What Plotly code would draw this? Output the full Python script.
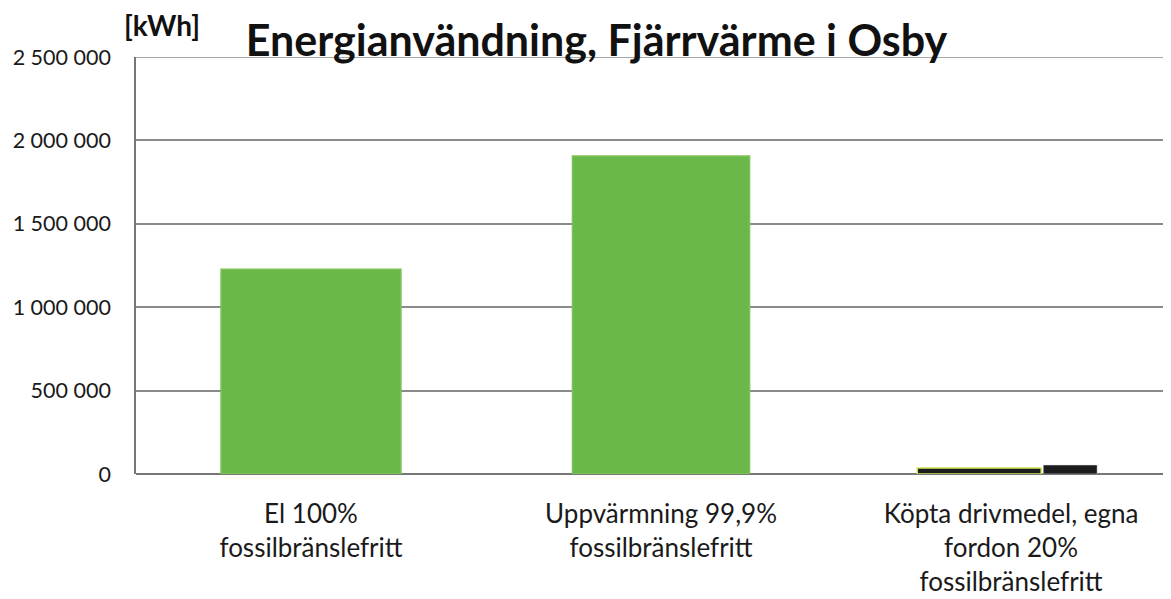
import plotly.graph_objects as go

# data
categories = ["El 100%<br>fossilbränslefritt",
              "Uppvärmning 99,9%<br>fossilbränslefritt",
              "Köpta drivmedel, egna<br>fordon 20%<br>fossilbränslefritt"]
energi = [1227000, 1906000, 36000]
extra_svart = [None, None, 54000]
ytick_vals = [0, 500000, 1000000, 1500000, 2000000, 2500000]
ytick_text = ["0", "500 000", "1 000 000", "1 500 000", "2 000 000", "2 500 000"]

fnt = "Lato, Carlito, Open Sans, sans-serif"

fig = go.Figure()
fig.add_trace(go.Bar(x=categories, y=energi,
                     width=[0.514, 0.506, 0.354],
                     offset=[-0.257, -0.253, -0.268],
                     marker_color=["#6ab84a", "#6ab84a", "#1c1c1c"],
                     marker_line_color=["#7dc255", "#7dc255", "#cfe35a"],
                     marker_line_width=1.5,
                     showlegend=False))
fig.add_trace(go.Bar(x=categories, y=extra_svart,
                     width=0.154, offset=0.092,
                     marker_color="#1c1c1c",
                     showlegend=False))

# page body has an 8px margin, so the figure is a bit smaller than the window
fig.update_layout(
    width=1163, height=591,
    margin=dict(l=128, r=0, t=49, b=125, autoexpand=False),
    plot_bgcolor="white", paper_bgcolor="white",
    barmode="overlay",
    font=dict(family=fnt, color="#1a1a1a"),
    title=dict(text="<b>Energianvändning, Fjärrvärme i Osby</b>",
               x=0.506, xanchor="center", y=0.945, yanchor="middle",
               font=dict(size=43, family=fnt, color="#111")),
)
fig.add_annotation(text="<b>[kWh]</b>", xref="paper", yref="paper",
                   x=-0.0135, y=1.0, xanchor="left", yanchor="bottom",
                   yshift=13, showarrow=False,
                   font=dict(size=28, family=fnt, color="#111"))
# top border gridline at 2 500 000
fig.add_shape(type="line", xref="paper", yref="y", x0=0, x1=1,
              y0=ytick_vals[-1], y1=ytick_vals[-1],
              line=dict(color="#8a8a8a", width=1.5))

fig.update_yaxes(range=[0, 2500000], tickvals=ytick_vals, ticktext=ytick_text,
                 automargin=False,
                 showgrid=True, gridcolor="#8a8a8a", gridwidth=1.5,
                 showline=True, linecolor="#777", linewidth=1.5,
                 zeroline=True, zerolinecolor="#777", zerolinewidth=1.5,
                 ticks="", ticklabelstandoff=19,
                 tickfont=dict(size=21.5, family=fnt, color="#1a1a1a"))
fig.update_xaxes(range=[-0.5, 2.457], showline=False, ticks="",
                 automargin=False, ticklabelstandoff=22,
                 tickfont=dict(size=26, family=fnt, color="#1a1a1a"))

fig.write_html("out.html")
